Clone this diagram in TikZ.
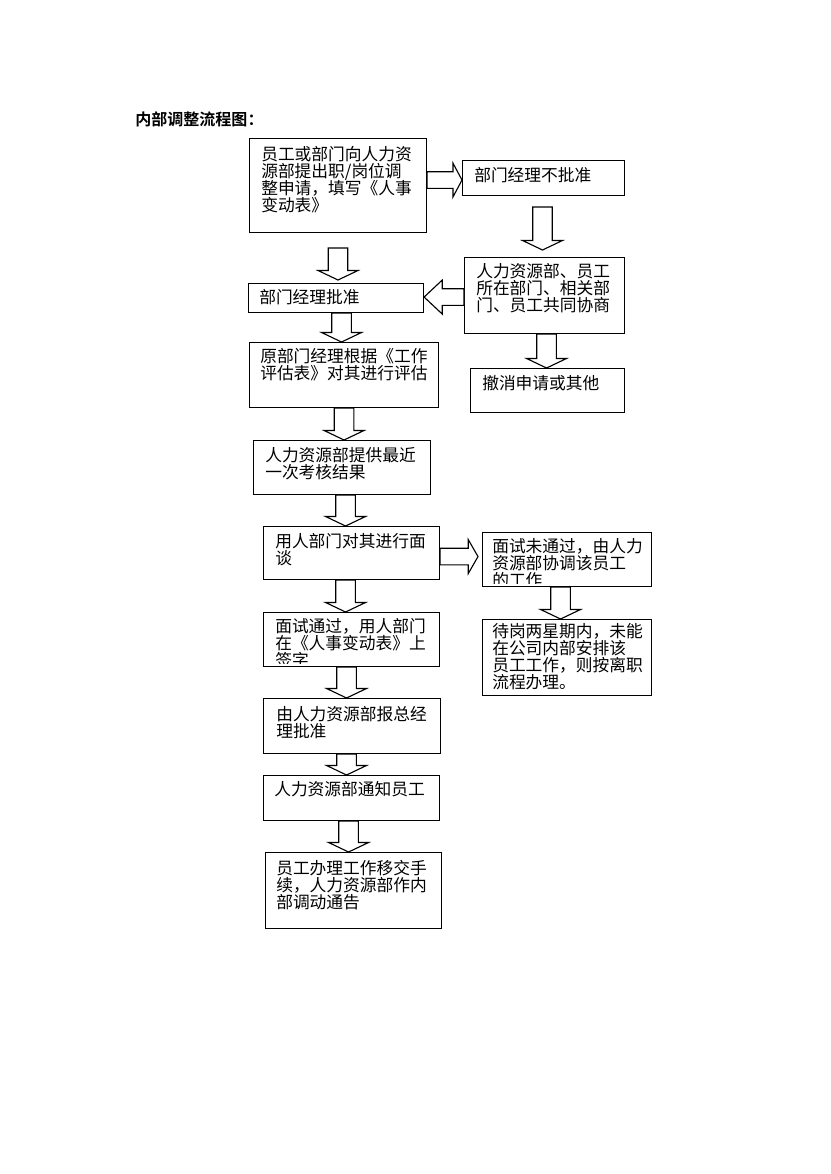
\documentclass[tikz,border=0pt]{standalone}
\usepackage{fontspec}
\setmainfont{Noto Sans CJK SC}[BoldFont={Noto Sans CJK SC Bold}]
\usetikzlibrary{calc}

\newdimen\px
\px=0.7172pt

\tikzset{
    flowbox/.style={draw, line width=0.8pt, anchor=north west, inner sep=0pt},
    boxsize/.style 2 args={minimum width=#1*\px, minimum height=#2*\px},
    flowtext/.style={anchor=north west, inner sep=0pt, align=left, font=\fontsize{12}{12.3}\selectfont},
    fatarrow/.style={draw, line width=0.8pt, fill=white},
}

% block arrow pointing down, x taken from the start point
\newcommand\downfat[3][0]{%
    \draw[fatarrow] let \p1=($(#2)+(#1,0)$), \p2=(#3) in
        (\x1-7pt,\y1) -- (\x1-7pt,\y2+6.8pt) -- (\x1-14.3pt,\y2+6.8pt) -- (\x1,\y2)
        -- (\x1+14.3pt,\y2+6.8pt) -- (\x1+7pt,\y2+6.8pt) -- (\x1+7pt,\y1) -- cycle;
}
% block arrow pointing sideways, #4 is the signed head length
\newcommand\sidefat[4][0]{%
    \draw[fatarrow] let \p1=($(#2)+(0,#1)$), \p2=(#3) in
        (\x1,\y1+6pt) -- (\x2-#4,\y1+6pt) -- (\x2-#4,\y1+12.2pt) -- (\x2,\y1)
        -- (\x2-#4,\y1-12.2pt) -- (\x2-#4,\y1-6pt) -- (\x1,\y1-6pt) -- cycle;
}

\begin{document}
\begin{tikzpicture}[x=0.7172pt, y=-0.7172pt]
    \useasboundingbox (0,0) rectangle (830,1174);

    \node[anchor=north west, inner sep=0pt, font=\fontsize{11.5}{12}\selectfont\bfseries] (title) at (135,111) {内部调整流程图：};

    \node[flowbox, boxsize={177}{94}] (req) at (249,138) {};
    \node[flowbox, boxsize={162}{35}] (reject) at (462,160) {};
    \node[flowbox, boxsize={160}{76}] (consult) at (464,257) {};
    \node[flowbox, boxsize={175}{29}] (approve) at (248,283) {};
    \node[flowbox, boxsize={189}{65}] (assess) at (249,342) {};
    \node[flowbox, boxsize={154}{44}] (cancel) at (470,368) {};
    \node[flowbox, boxsize={177}{54}] (latest) at (253,440) {};
    \node[flowbox, boxsize={176}{53}] (interview) at (263,526) {};
    \node[flowbox, boxsize={169}{54}] (fail) at (482,532) {};
    \node[flowbox, boxsize={169}{76}] (wait) at (482,619) {};
    \node[flowbox, boxsize={176}{54}] (pass) at (263,612) {};
    \node[flowbox, boxsize={177}{55}] (report) at (263,698) {};
    \node[flowbox, boxsize={176}{45}] (notify) at (263,775) {};
    \node[flowbox, boxsize={176}{76}] (handover) at (265,852) {};

    \node[flowtext] (reqtext) at ($(req.north west)+(12,8)$) {员工或部门向人力资\\源部提出职/岗位调\\整申请，填写《人事\\变动表》};
    \node[flowtext] (rejecttext) at ($(reject.north west)+(12,7)$) {部门经理不批准};
    \node[flowtext] (consulttext) at ($(consult.north west)+(12,6)$) {人力资源部、员工\\所在部门、相关部\\门、员工共同协商};
    \node[flowtext] (approvetext) at ($(approve.north west)+(11,6)$) {部门经理批准};
    \node[flowtext] (assesstext) at ($(assess.north west)+(11,6)$) {原部门经理根据《工作\\评估表》对其进行评估};
    \node[flowtext] (canceltext) at ($(cancel.north west)+(12,7)$) {撤消申请或其他};
    \node[flowtext] (latesttext) at ($(latest.north west)+(12,7)$) {人力资源部提供最近\\一次考核结果};
    \node[flowtext] (interviewtext) at ($(interview.north west)+(12,7)$) {用人部门对其进行面\\谈};
    \begin{scope}
        \clip (fail.north west) rectangle ($(fail.south east)+(0,-4)$);
        \node[flowtext] (failtext) at ($(fail.north west)+(10,6)$) {面试未通过，由人力\\资源部协调该员工\\的工作};
    \end{scope}
    \node[flowtext] (waittext) at ($(wait.north west)+(10,4)$) {待岗两星期内，未能\\在公司内部安排该\\员工工作，则按离职\\流程办理。};
    \begin{scope}
        \clip (pass.north west) rectangle ($(pass.south east)+(0,-4)$);
        \node[flowtext] (passtext) at ($(pass.north west)+(12,6)$) {面试通过，用人部门\\在《人事变动表》上\\签字};
    \end{scope}
    \node[flowtext] (reporttext) at ($(report.north west)+(13,8)$) {由人力资源部报总经\\理批准};
    \node[flowtext] (notifytext) at ($(notify.north west)+(11,6)$) {人力资源部通知员工};
    \node[flowtext] (handovertext) at ($(handover.north west)+(11,8)$) {员工办理工作移交手\\续，人力资源部作内\\部调动通告};

    \coordinate (rejectout) at (542.5,207);
    \coordinate (approvein) at (338,248);

    \sidefat[-5.5]{req.east}{reject.west}{6.5pt}
    \downfat{rejectout}{$(consult.north)+(0,-7)$}
    \downfat{approvein}{$(approve.north)+(0,-3)$}
    \sidefat[1.5]{consult.west}{approve.east}{-13pt}
    \downfat[5.5]{approve.south}{assess.north}
    \downfat[2]{consult.south}{cancel.north}
    \downfat{assess.south}{latest.north}
    \downfat[3.5]{latest.south}{interview.north}
    \sidefat[3.5]{interview.east}{$(fail.west)+(-4,0)$}{7pt}
    \downfat[-6.5]{fail.south}{wait.north}
    \downfat[-6]{interview.south}{pass.north}
    \downfat[-5]{pass.south}{report.north}
    \downfat[-5.5]{report.south}{notify.north}
    \downfat[-3]{notify.south}{handover.north}
\end{tikzpicture}
\end{document}
